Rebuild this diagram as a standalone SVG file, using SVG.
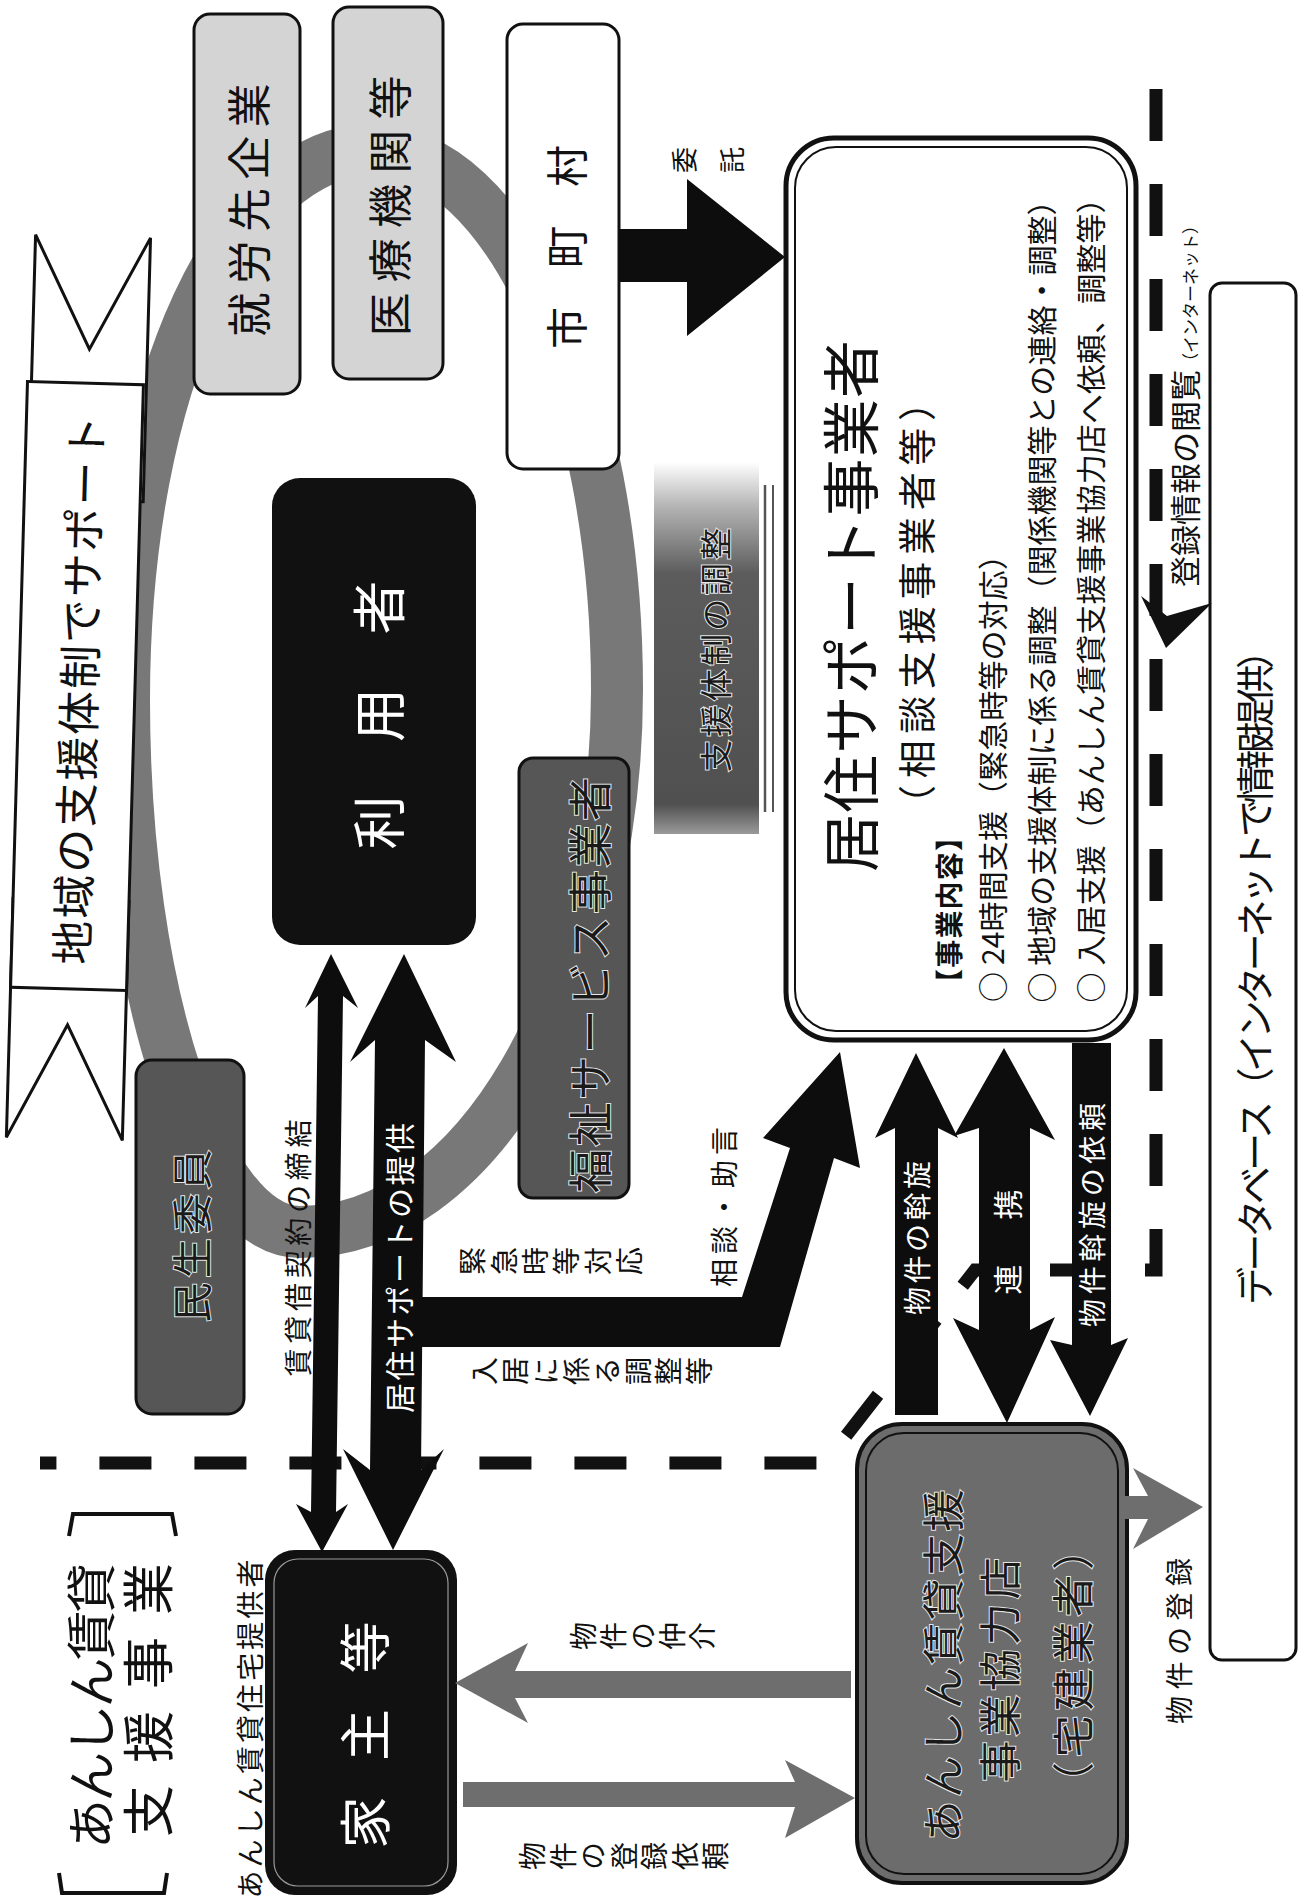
<svg xmlns="http://www.w3.org/2000/svg" width="1307" height="1903" viewBox="0 0 1307 1903">
<defs>
<style>
text{font-family:"Noto Sans CJK JP","Noto Sans CJK SC",sans-serif;}
.r{text-anchor:middle;dominant-baseline:central;}
.v{writing-mode:vertical-rl;text-anchor:middle;}
.k{fill:#111;}
.w{fill:#fff;}
.o{fill:#1a1a1a;stroke:#e6e6e6;stroke-width:2;paint-order:stroke;}
.lg{fill:#d4d4d4;stroke:#111;stroke-width:3;}
.dg{fill:#565656;stroke:#111;stroke-width:3;}
.arr{fill:#0d0d0d;}
.garr{fill:#6e6e6e;}
.wb{fill:#fff;stroke:#111;stroke-width:3;}
</style>
<linearGradient id="gs" x1="0" y1="0" x2="0" y2="1">
<stop offset="0" stop-color="#ffffff"/>
<stop offset="0.12" stop-color="#b4b4b4"/>
<stop offset="0.3" stop-color="#5c5c5c"/>
<stop offset="0.92" stop-color="#505050"/>
<stop offset="1" stop-color="#9a9a9a"/>
</linearGradient>
</defs>
<rect width="1307" height="1903" fill="#fff"/>

<!-- ring -->
<g id="ring">
<path d="M372,150 C507,150 617,392 617,690 C617,989 475,1232 300,1232 C205,1232 124,994 124,700 C124,380 237,150 372,150 Z" fill="none" stroke="#787878" stroke-width="52"/>
</g>

<!-- banner -->
<g id="banner" transform="rotate(1.6 77 686)">
<polygon points="23,236 80,349 138,236 138,500 23,500" class="wb" stroke-width="2.5"/>
<polygon points="19,900 135,900 135,1139 77,1025 19,1139" class="wb" stroke-width="2.5"/>
<rect x="19" y="383" width="116" height="606" class="wb" stroke-width="2.5"/>
<text class="r k" font-size="44" transform="translate(77,690) rotate(-90)" textLength="549" lengthAdjust="spacing">地域の支援体制でサポート</text>
</g>

<!-- support coordination band -->
<g id="shien-chosei">
<rect x="654" y="462" width="105" height="372" fill="url(#gs)"/>
<line x1="765" y1="485" x2="765" y2="812" stroke="#555" stroke-width="2.5"/>
<line x1="773" y1="485" x2="773" y2="812" stroke="#555" stroke-width="2"/>
<text class="r o" font-size="32" transform="translate(714,650) rotate(-90)" textLength="244" lengthAdjust="spacing">支援体制の調整</text>
</g>

<g id="shuro">
<rect x="194" y="14" width="106" height="380" rx="16" class="lg"/>
<text class="r k" font-size="44" transform="translate(247,210) rotate(-90)" textLength="253" lengthAdjust="spacing">就労先企業</text>
</g>
<g id="iryo">
<rect x="333" y="7" width="110" height="372" rx="16" class="lg"/>
<text class="r k" font-size="44" transform="translate(388,206) rotate(-90)" textLength="261" lengthAdjust="spacing">医療機関等</text>
</g>
<g id="shichoson">
<rect x="507" y="24" width="112" height="445" rx="16" class="wb"/>
<text class="r k" font-size="42" transform="translate(564,247) rotate(-90)" textLength="204" lengthAdjust="spacing">市 町 村</text>
</g>
<g id="riyosha">
<rect x="272" y="478" width="204" height="467" rx="28" fill="#111"/>
<text class="r w" font-size="54" transform="translate(376,715) rotate(-90)" textLength="269" lengthAdjust="spacing">利 用 者</text>
</g>
<g id="fukushi">
<rect x="519" y="758" width="110" height="440" rx="14" class="dg"/>
<text class="r o" font-size="44" transform="translate(588,985) rotate(-90)" textLength="416" lengthAdjust="spacing">福祉サービス事業者</text>
</g>
<g id="minsei">
<rect x="136" y="1060" width="108" height="354" rx="16" class="dg" fill="#484848"/>
<text class="r o" font-size="40" transform="translate(190,1236) rotate(-90)" textLength="173" lengthAdjust="spacing">民生委員</text>
</g>

<g id="kyoju">
<rect x="786" y="138" width="350" height="902" rx="48" fill="#fff" stroke="#111" stroke-width="5"/>
<rect x="795" y="147" width="332" height="884" rx="41" fill="none" stroke="#111" stroke-width="2"/>
<text class="r k" font-size="58" transform="translate(848,606) rotate(-90)" textLength="532" lengthAdjust="spacing">居住サポート事業者</text>
<text class="r k" font-size="38" transform="translate(914,603) rotate(-90)" textLength="440" lengthAdjust="spacing">（相談支援事業者等）</text>
<text class="r k" font-size="28" font-weight="bold" transform="translate(948,910) rotate(-90)" textLength="174" lengthAdjust="spacing">【事業内容】</text>
<text class="r k" font-size="30" transform="translate(991,771) rotate(-90)" textLength="462" lengthAdjust="spacing">○ 24時間支援（緊急時等の対応）</text>
<text class="r k" font-size="30" transform="translate(1040,594) rotate(-90)" textLength="817" lengthAdjust="spacing">○ 地域の支援体制に係る調整（関係機関等との連絡・調整）</text>
<text class="r k" font-size="30" transform="translate(1089,593) rotate(-90)" textLength="819" lengthAdjust="spacing">○ 入居支援（あんしん賃貸支援事業協力店へ依頼、調整等）</text>
</g>

<g id="database">
<rect x="1210" y="283" width="86" height="1377" rx="12" class="wb"/>
<text class="r k" font-size="38" transform="translate(1252,968) rotate(-90)" textLength="674" lengthAdjust="spacing">データベース（インターネットで情報提供）</text>
</g>

<g id="yanushi">
<rect x="265" y="1550" width="192" height="345" rx="30" fill="#111"/>
<rect x="274" y="1559" width="174" height="327" rx="24" fill="none" stroke="#999" stroke-width="1.2"/>
<text class="r w" font-size="52" transform="translate(362,1735) rotate(-90)" textLength="227" lengthAdjust="spacing">家 主 等</text>
</g>
<text class="r k" font-size="28" transform="translate(249,1729) rotate(-90)" textLength="339" lengthAdjust="spacing">あんしん賃貸住宅提供者</text>

<g id="kyoryokuten">
<rect x="857" y="1424" width="270" height="459" rx="45" fill="#6c6c6c" stroke="#111" stroke-width="4"/>
<rect x="866" y="1433" width="252" height="441" rx="38" fill="none" stroke="#111" stroke-width="2"/>
<text class="r o" font-size="42" transform="translate(940,1666) rotate(-90)" textLength="353" lengthAdjust="spacing">あんしん賃貸支援</text>
<text class="r o" font-size="42" transform="translate(997,1670) rotate(-90)" textLength="225" lengthAdjust="spacing">事業協力店</text>
<text class="r o" font-size="42" transform="translate(1070,1666) rotate(-90)" textLength="276" lengthAdjust="spacing">（宅建業者）</text>
</g>

<g id="label-jigyo">
<polyline points="69,1536 73,1514 172,1514 176,1536" fill="none" stroke="#111" stroke-width="4"/>
<polyline points="59,1873 62,1893 164,1893 167,1873" fill="none" stroke="#111" stroke-width="4"/>
<text class="r k" font-size="50" transform="translate(88,1706) rotate(-90)" textLength="286" lengthAdjust="spacing">あんしん賃貸</text>
<text class="r k" font-size="52" transform="translate(145,1700) rotate(-90)" textLength="274" lengthAdjust="spacing">支 援 事 業</text>
</g>

<!-- connectors -->
<g id="connectors">
<polyline points="1156,89 1156,1270 975,1270 825,1463 40,1463" fill="none" stroke="#111" stroke-width="13" stroke-dasharray="52 43"/>
<polygon points="1141,596 1167,616 1212,603 1166,648" fill="#111"/>
<text font-size="31" class="k" transform="translate(1197,587) rotate(-90)">登録情報の閲覧<tspan font-size="17">（インターネット）</tspan></text>

<polygon class="arr" points="619,229 687,229 687,179 785,257 687,336 687,282 619,282"/>
<text class="v k" font-size="26" transform="translate(708,160) rotate(-90)" textLength="74" lengthAdjust="spacing">委　託</text>

<polygon class="arr" points="331,954 358,1008 343,996 336,1512 348,1504 322,1552 296,1504 311,1512 318,996 305,1008"/>
<text class="r k" font-size="28" transform="translate(297,1248) rotate(-90)" textLength="257" lengthAdjust="spacing">賃貸借契約の締結</text>

<polygon class="arr" points="404,954 456,1062 425,1040 421,1470 444,1449 393,1550 343,1449 370,1470 375,1040 350,1062"/>
<polygon class="arr" points="421,1297 742,1297 790,1148 763,1138 840,1052 860,1168 834,1158 780,1347 421,1347"/>
<text class="r w" font-size="30" transform="translate(398,1268) rotate(-90)" textLength="290" lengthAdjust="spacing">居住サポートの提供</text>
<text class="v k" font-size="28" transform="translate(551,1261) rotate(-90)" textLength="185" lengthAdjust="spacing">緊急時等対応</text>
<text class="v k" font-size="28" transform="translate(592,1371) rotate(-90)" textLength="243" lengthAdjust="spacing">入居に係る調整等</text>
<text class="r k" font-size="28" transform="translate(723,1207) rotate(-90)" textLength="160" lengthAdjust="spacing">相談・助言</text>

<polygon class="arr" points="916,1053 958,1138 938,1128 938,1415 895,1415 895,1128 875,1138"/>
<text class="r w" font-size="28" transform="translate(916,1238) rotate(-90)" textLength="154" lengthAdjust="spacing">物件の斡旋</text>

<polygon class="arr" points="1004,1048 1055,1140 1030,1128 1030,1330 1055,1317 1007,1423 953,1318 979,1330 979,1128 954,1136"/>
<text class="r w" font-size="30" transform="translate(1006,1242) rotate(-90)" textLength="105" lengthAdjust="spacing">連 携</text>

<polygon class="arr" points="1072,1043 1111,1043 1111,1345 1128,1338 1090,1416 1050,1340 1072,1345"/>
<text class="r w" font-size="28" transform="translate(1091,1215) rotate(-90)" textLength="224" lengthAdjust="spacing">物件斡旋の依頼</text>

<polygon class="garr" points="1120,1496 1148,1496 1133,1468 1203,1507 1133,1549 1148,1519 1120,1519"/>
<text class="r k" font-size="28" transform="translate(1178,1641) rotate(-90)" textLength="166" lengthAdjust="spacing">物件の登録</text>

<polygon class="garr" points="455,1683 528,1643 515,1671 851,1671 851,1698 515,1698 528,1723"/>
<text class="v k" font-size="28" transform="translate(643,1636) rotate(-90)" textLength="147" lengthAdjust="spacing">物件の仲介</text>

<polygon class="garr" points="463,1782 795,1782 785,1760 855,1798 785,1838 795,1807 463,1807"/>
<text class="v k" font-size="28" transform="translate(624,1856) rotate(-90)" textLength="211" lengthAdjust="spacing">物件の登録依頼</text>
</g>
</svg>
